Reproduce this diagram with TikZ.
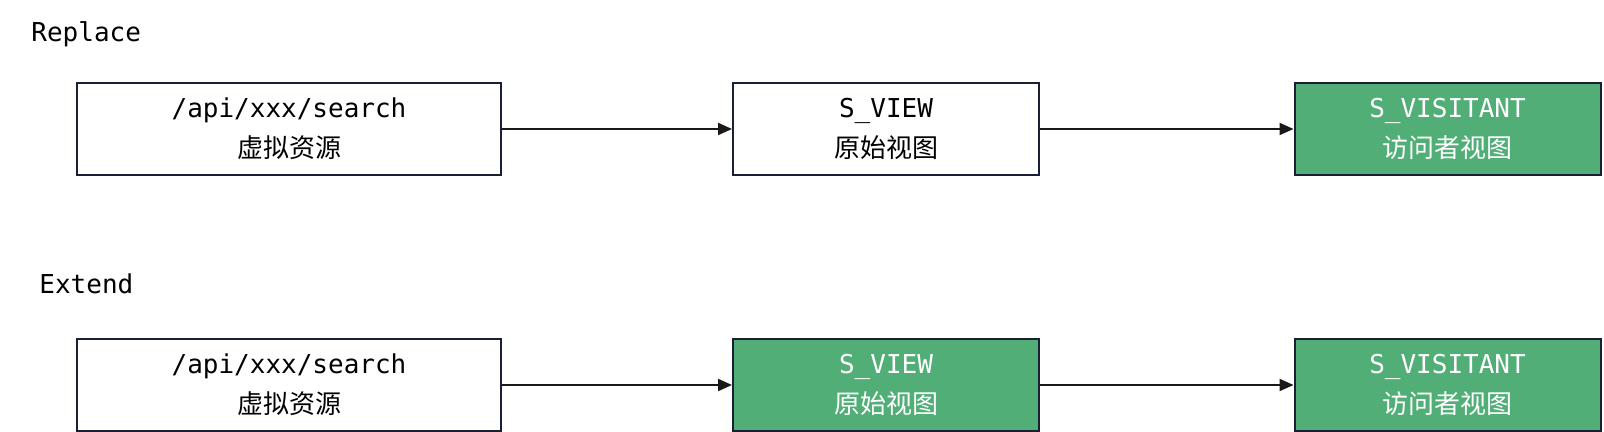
\documentclass[tikz,border=0pt]{standalone}
\usepackage{fontspec}
\setmonofont{DejaVu Sans Mono}
\newfontfamily\cjk{Noto Sans CJK SC}
\usepackage{tikz}
\usetikzlibrary{arrows.meta}
\definecolor{gg}{RGB}{82,174,119}
\definecolor{bd}{RGB}{26,31,54}
\tikzset{
  box/.style={draw=bd, line width=1pt, inner sep=0pt, align=center, minimum height=46pt,
    font=\fontsize{13}{20}\selectfont\ttfamily},
  resbox/.style={box, minimum width=212pt},
  viewbox/.style={box, minimum width=153pt},
  greenbox/.style={viewbox, fill=gg, text=white},
  arr/.style={line width=1pt, draw=black!90, -{Triangle[length=7pt,width=6pt]}},
  title/.style={anchor=west, inner sep=0pt, font=\fontsize{13}{16}\selectfont\ttfamily}
}
\begin{document}
\begin{tikzpicture}[x=0.5pt, y=-0.5pt]
  \useasboundingbox (0,0) rectangle (1604,432);
  \node[title] (replace) at (31,34) {Replace};
  \node[resbox] (res1) at (289,129) {/api/xxx/search\\{\cjk 虚拟资源}};
  \node[viewbox] (view1) at (886,129) {S\_VIEW\\{\cjk 原始视图}};
  \node[greenbox] (vis1) at (1447.5,129) {S\_VISITANT\\{\cjk 访问者视图}};
  \draw[arr] (res1) -- (view1);
  \draw[arr] (view1) -- (vis1);

  \node[title] (extend) at (39,284) {Extend};
  \node[resbox] (res2) at (289,385) {/api/xxx/search\\{\cjk 虚拟资源}};
  \node[greenbox] (view2) at (886,385) {S\_VIEW\\{\cjk 原始视图}};
  \node[greenbox] (vis2) at (1447.5,385) {S\_VISITANT\\{\cjk 访问者视图}};
  \draw[arr] (res2) -- (view2);
  \draw[arr] (view2) -- (vis2);
\end{tikzpicture}
\end{document}
